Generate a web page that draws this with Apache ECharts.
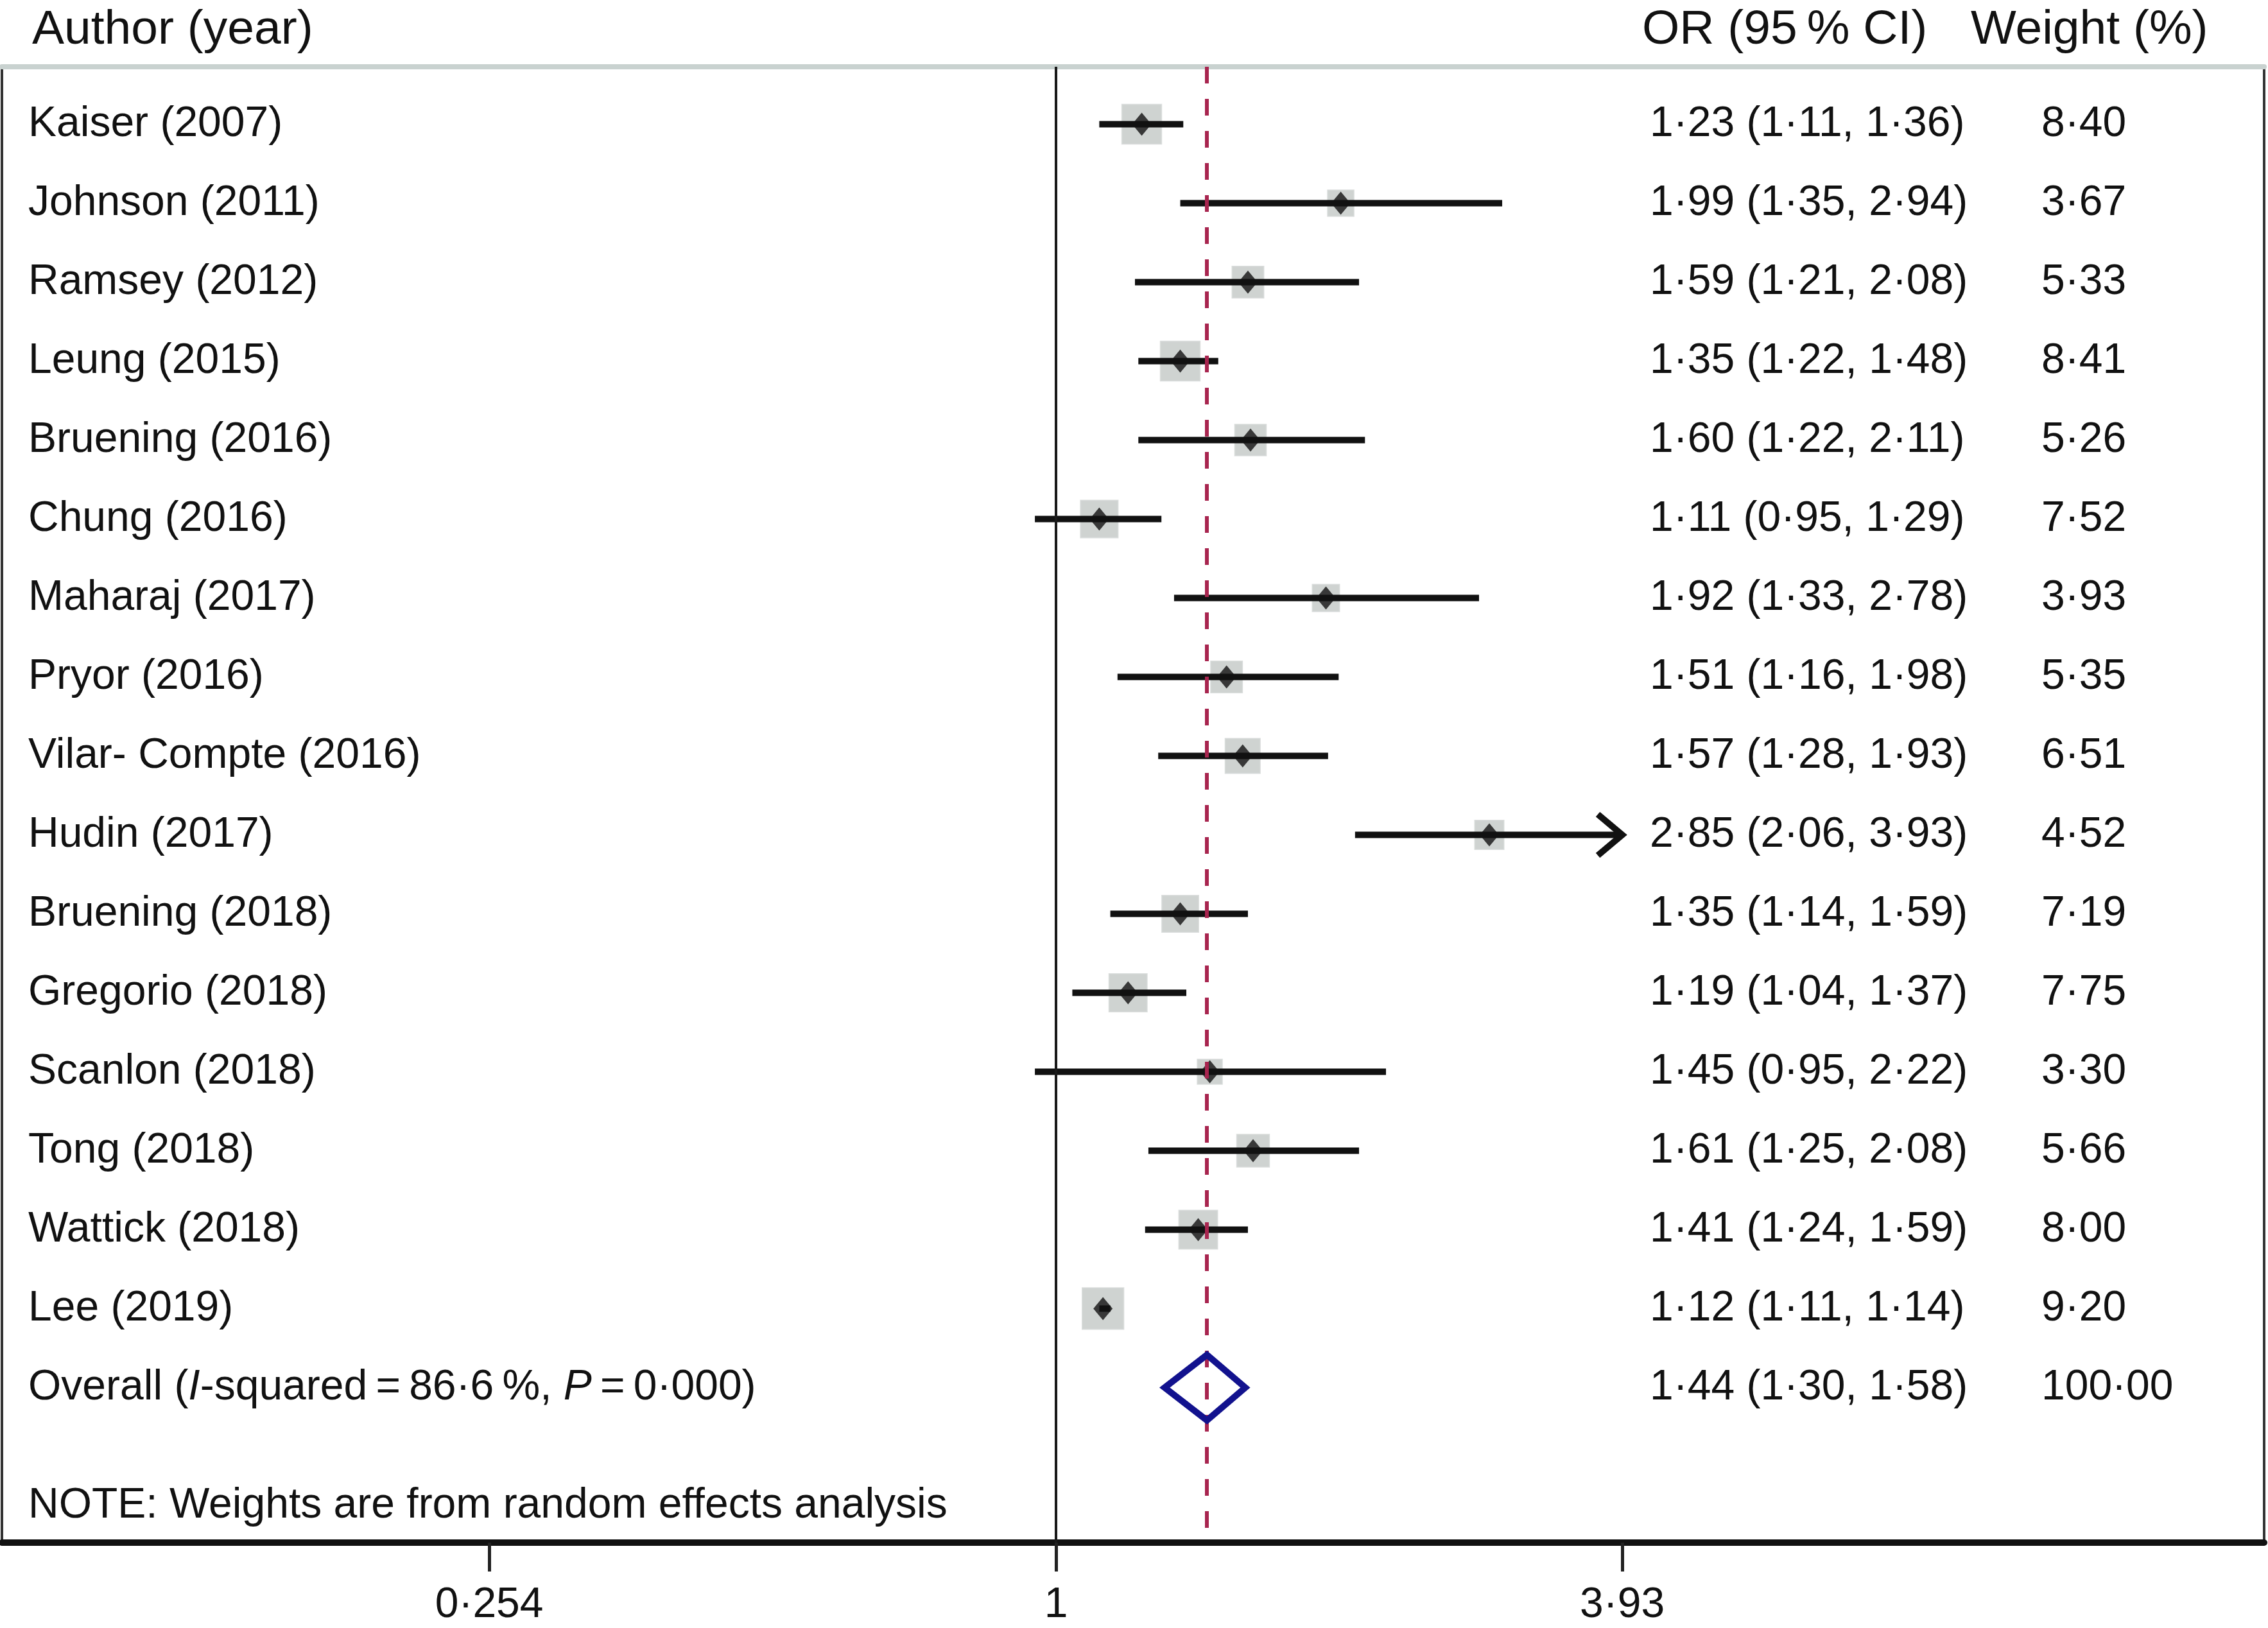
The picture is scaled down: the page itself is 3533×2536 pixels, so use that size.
<!DOCTYPE html>
<html lang="en">
<head>
<meta charset="UTF-8">
<title>Forest plot</title>
<script src="https://cdn.jsdelivr.net/npm/echarts@6/dist/echarts.min.js"></script>
<style>
    html, body { margin: 0; padding: 0; background: #fff; }
    #chart { width: 3533px; height: 2536px; }
</style>
</head>
<body>
<div id="chart"></div>
<script>
// study data
var studies = ['Kaiser (2007)', 'Johnson (2011)', 'Ramsey (2012)', 'Leung (2015)', 'Bruening (2016)',
    'Chung (2016)', 'Maharaj (2017)', 'Pryor (2016)', 'Vilar- Compte (2016)', 'Hudin (2017)',
    'Bruening (2018)', 'Gregorio (2018)', 'Scanlon (2018)', 'Tong (2018)', 'Wattick (2018)', 'Lee (2019)'];
var orEst  = [1.23, 1.99, 1.59, 1.35, 1.60, 1.11, 1.92, 1.51, 1.57, 2.85, 1.35, 1.19, 1.45, 1.61, 1.41, 1.12];
var ciLow  = [1.11, 1.35, 1.21, 1.22, 1.22, 0.95, 1.33, 1.16, 1.28, 2.06, 1.14, 1.04, 0.95, 1.25, 1.24, 1.11];
var ciHigh = [1.36, 2.94, 2.08, 1.48, 2.11, 1.29, 2.78, 1.98, 1.93, 3.93, 1.59, 1.37, 2.22, 2.08, 1.59, 1.14];
var weights = [8.40, 3.67, 5.33, 8.41, 5.26, 7.52, 3.93, 5.35, 6.51, 4.52, 7.19, 7.75, 3.30, 5.66, 8.00, 9.20];
var overallOR = [1.44, 1.30, 1.58];   // estimate, lower, upper
var overallWeight = 100.00;
var overallLabel = 'Overall ({i|I}-squared\u2009=\u200986·6\u2009%, {i|P}\u2009=\u20090·000)';
var noteText = 'NOTE: Weights are from random effects analysis';
var tickValues = [0.254, 1, 3.93];
var tickLabels = ['0·254', '1', '3·93'];

var FONT = '"Liberation Sans", Arial, Helvetica, sans-serif';
var INK = '#111';
var FS = 66;

function fmt(v) {
    return v.toFixed(2).replace('.', '·');
}
function orText(e, l, h) {
    return fmt(e) + ' (' + fmt(l) + ', ' + fmt(h) + ')';
}

// rows: study i sits on row i+1, overall one row after the last study
var overallRow = studies.length + 1;
var noteRow = overallRow + 1.5;

var ciData = [], boxData = [], pointData = [], textRows = [];
for (var i = 0; i < studies.length; i++) {
    ciData.push([ciLow[i], ciHigh[i], i + 1]);
    boxData.push([orEst[i], i + 1, weights[i]]);
    pointData.push([orEst[i], i + 1]);
    textRows.push({name: studies[i], or: orText(orEst[i], ciLow[i], ciHigh[i]), w: fmt(weights[i]), row: i + 1});
}
textRows.push({name: overallLabel, or: orText(overallOR[0], overallOR[1], overallOR[2]), w: fmt(overallWeight), row: overallRow});
textRows.push({name: noteText, or: '', w: '', row: noteRow});

var chart = echarts.init(document.getElementById('chart'));

var option = {
    backgroundColor: '#fff',
    animation: false,
    textStyle: {fontFamily: FONT},
    grid: {left: 3, right: 6, top: 104, bottom: 133, show: true, borderColor: '#333', borderWidth: 4},
    xAxis: [{
        type: 'log',
        logBase: Math.E,
        min: 0.0782,
        max: 18.55,
        axisLine: {lineStyle: {color: INK, width: 10}},
        axisTick: {customValues: tickValues, length: 45, lineStyle: {color: '#222', width: 5}},
        axisLabel: {
            customValues: tickValues,
            margin: 65,
            fontSize: FS,
            color: INK,
            fontFamily: FONT,
            formatter: function (v) {
                for (var k = 0; k < tickValues.length; k++) {
                    if (Math.abs(tickValues[k] - v) < 1e-6) return tickLabels[k];
                }
                return '';
            }
        },
        splitLine: {show: false}
    }, {
        type: 'log',
        logBase: Math.E,
        position: 'top',
        min: 0.0782,
        max: 18.55,
        axisLine: {lineStyle: {color: '#c9d2d0', width: 8}},
        axisTick: {show: false},
        axisLabel: {show: false},
        splitLine: {show: false}
    }],
    yAxis: {
        type: 'value',
        inverse: true,
        min: 0.2723,
        max: 18.964,
        axisLine: {show: false},
        axisTick: {show: false},
        axisLabel: {show: false},
        splitLine: {show: false}
    },
    graphic: [
        {type: 'text', left: 50, top: 10, style: {text: 'Author (year)', fontSize: 75, fontFamily: FONT, fill: INK}},
        {type: 'text', left: 2558, top: 10, style: {text: 'OR (95\u2009% CI)', fontSize: 75, fontFamily: FONT, fill: INK}},
        {type: 'text', left: 3070, top: 10, style: {text: 'Weight (%)', fontSize: 75, fontFamily: FONT, fill: INK}}
    ],
    series: [
        {
            // weight boxes, area proportional to weight
            type: 'scatter',
            name: 'weight',
            data: boxData,
            symbol: 'rect',
            symbolSize: function (val) { return 21.2 * Math.sqrt(val[2]); },
            itemStyle: {color: '#c3c8c6', borderColor: '#d3d7d6', borderWidth: 2},
            z: 2
        },
        {
            // confidence intervals
            type: 'custom',
            name: 'ci',
            data: ciData,
            encode: {x: [0, 1], y: 2},
            z: 3,
            renderItem: function (params, api) {
                var a = api.coord([api.value(0), api.value(2)]);
                var b = api.coord([api.value(1), api.value(2)]);
                var kids = [{
                    type: 'line',
                    shape: {x1: a[0], y1: a[1], x2: b[0], y2: b[1]},
                    style: {stroke: INK, lineWidth: 10}
                }];
                if (api.value(1) >= tickValues[tickValues.length - 1]) {
                    kids.push({
                        type: 'polyline',
                        shape: {points: [[b[0] - 38, b[1] - 32], [b[0], b[1]], [b[0] - 38, b[1] + 32]]},
                        style: {stroke: INK, lineWidth: 10, fill: null, lineJoin: 'miter'}
                    });
                }
                return {type: 'group', children: kids};
            }
        },
        {
            // point estimates
            type: 'scatter',
            name: 'estimate',
            data: pointData,
            symbol: 'diamond',
            symbolSize: [30, 36],
            itemStyle: {color: INK},
            z: 4,
            markLine: {
                silent: true,
                symbol: 'none',
                label: {show: false},
                data: [
                    {xAxis: 1, lineStyle: {color: '#1a1a1a', width: 4, type: 'solid'}},
                    {xAxis: overallOR[0], lineStyle: {color: '#a8254f', width: 6, type: [26, 24]}}
                ]
            }
        },
        {
            // pooled estimate diamond
            type: 'custom',
            name: 'overall',
            data: [[overallOR[1], overallOR[0], overallOR[2], overallRow]],
            encode: {x: [0, 2], y: 3},
            z: 5,
            renderItem: function (params, api) {
                var r = api.value(3);
                var left = api.coord([api.value(0), r]);
                var mid = api.coord([api.value(1), r]);
                var right = api.coord([api.value(2), r]);
                var h = 51;
                return {
                    type: 'polygon',
                    shape: {points: [left, [mid[0], mid[1] - h], right, [mid[0], mid[1] + h]]},
                    style: {stroke: '#12128e', lineWidth: 10, fill: null}
                };
            }
        },
        {
            // text columns
            type: 'custom',
            name: 'text',
            data: textRows.map(function (t) { return [1, t.row]; }),
            encode: {x: 0, y: 1},
            z: 6,
            renderItem: function (params, api) {
                var t = textRows[params.dataIndex];
                var y = api.coord([1, api.value(1)])[1];
                var base = {fontSize: FS, fontFamily: FONT, fill: INK, verticalAlign: 'middle'};
                return {
                    type: 'group',
                    children: [
                        {type: 'text', x: 44, y: y, style: Object.assign({text: t.name, rich: {i: {fontStyle: 'italic', fontSize: FS, fontFamily: FONT}}}, base)},
                        {type: 'text', x: 2570, y: y, style: Object.assign({text: t.or}, base)},
                        {type: 'text', x: 3180, y: y, style: Object.assign({text: t.w}, base)}
                    ]
                };
            }
        }
    ]
};

chart.setOption(option);
</script>
</body>
</html>
